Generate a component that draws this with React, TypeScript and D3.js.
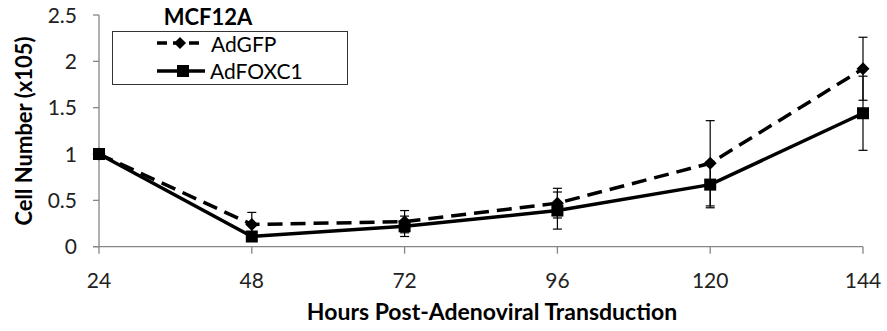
import React from "react";
import * as d3 from "d3";

const hours = [24, 48, 72, 96, 120, 144];
const gfpValues = [1.0, 0.24, 0.27, 0.47, 0.9, 1.92];
const gfpErrors = [0.0, 0.13, 0.12, 0.16, 0.46, 0.34];
const foxValues = [1.0, 0.11, 0.22, 0.39, 0.67, 1.44];
const foxErrors = [0.0, 0.0, 0.11, 0.2, 0.25, 0.4];
const yTicks = [0, 0.5, 1, 1.5, 2, 2.5];
const yTickLabels = ["0", "0.5", "1", "1.5", "2", "2.5"];
const title = "MCF12A";
const seriesNames = ["AdGFP", "AdFOXC1"];
const xLabel = "Hours Post-Adenoviral Transduction";
const yLabel = "Cell Number (x105)";

const FONT = "Lato, 'Open Sans', sans-serif";

export default function App() {
  const W = 887, H = 331;
  const x = d3.scaleLinear().domain([24, 144]).range([99, 863]);
  const y = d3.scaleLinear().domain([0, 2.5]).range([246.7, 15]);
  const line = d3.line<number>().x((_, i) => x(hours[i])).y((v) => y(v));
  const axisColor = "#868686";

  const errBars = (vals: number[], errs: number[], key: string) =>
    vals.map((v, i) => {
      if (!errs[i]) return null;
      const cx = x(hours[i]);
      const t = y(v + errs[i]);
      const b = y(v - errs[i]);
      return (
        <g key={key + i} stroke="#000" strokeWidth={1.2}>
          <line x1={cx} x2={cx} y1={t} y2={b} />
          <line x1={cx - 4.5} x2={cx + 4.5} y1={t} y2={t} />
          <line x1={cx - 4.5} x2={cx + 4.5} y1={b} y2={b} />
        </g>
      );
    });

  const diamond = (cx: number, cy: number, k: string, r = 6.5) => (
    <path key={k} d={`M${cx},${cy - r}L${cx + r},${cy}L${cx},${cy + r}L${cx - r},${cy}Z`} fill="#000" />
  );
  const square = (cx: number, cy: number, k: string, s = 12) => (
    <rect key={k} x={cx - s / 2} y={cy - s / 2} width={s} height={s} fill="#000" />
  );

  return (
    <svg width={W} height={H} style={{ position: "absolute", left: 0, top: 0, background: "#fff" }}>
      {/* axes */}
      <line x1={x(24)} x2={x(24)} y1={y(2.5)} y2={y(0)} stroke={axisColor} strokeWidth={1.3} />
      <line x1={x(24) - 6} x2={x(144)} y1={y(0)} y2={y(0)} stroke={axisColor} strokeWidth={1.3} />
      {yTicks.map((t, i) => (
        <g key={"yt" + i}>
          <line x1={x(24) - 6} x2={x(24)} y1={y(t)} y2={y(t)} stroke={axisColor} strokeWidth={1.3} />
          <text x={77} y={y(t)} dy="0.36em" textAnchor="end" fontFamily={FONT} fontSize={21} fill="#222">
            {yTickLabels[i]}
          </text>
        </g>
      ))}
      {hours.map((h) => (
        <g key={"xt" + h}>
          <line x1={x(h)} x2={x(h)} y1={y(0)} y2={y(0) + 7} stroke={axisColor} strokeWidth={1.3} />
          <text x={x(h)} y={288} textAnchor="middle" fontFamily={FONT} fontSize={21} fill="#222">
            {h}
          </text>
        </g>
      ))}
      <text x={492} y={320} textAnchor="middle" fontFamily={FONT} fontWeight="bold" fontSize={23} fill="#000">
        {xLabel}
      </text>
      <text transform={`translate(32,131) rotate(-90)`} textAnchor="middle" fontFamily={FONT} fontWeight="bold" fontSize={22} fill="#000">
        {yLabel}
      </text>

      {/* series */}
      {errBars(gfpValues, gfpErrors, "ge")}
      {errBars(foxValues, foxErrors, "fe")}
      <path d={line(gfpValues) || ""} fill="none" stroke="#000" strokeWidth={3.5} strokeDasharray="15,8" />
      <path d={line(foxValues) || ""} fill="none" stroke="#000" strokeWidth={3.5} />
      {gfpValues.map((v, i) => diamond(x(hours[i]), y(v), "gd" + i))}
      {foxValues.map((v, i) => square(x(hours[i]), y(v), "fs" + i))}

      {/* legend */}
      <text x={208} y={25} textAnchor="middle" fontFamily={FONT} fontWeight="bold" fontSize={22} fill="#000">
        {title}
      </text>
      <rect x={112.5} y={31.5} width={235} height={53} fill="#fff" stroke="#333" strokeWidth={1} />
      <line x1={157} x2={202} y1={43} y2={43} stroke="#000" strokeWidth={3.5} strokeDasharray="10,6" />
      {diamond(180, 43, "ld", 6)}
      <line x1={157} x2={205} y1={71} y2={71} stroke="#000" strokeWidth={3.5} />
      {square(183, 71, "ls", 12)}
      <text x={211} y={52} fontFamily={FONT} fontSize={21} fill="#000">{seriesNames[0]}</text>
      <text x={210} y={79} fontFamily={FONT} fontSize={21} fill="#000">{seriesNames[1]}</text>
    </svg>
  );
}
